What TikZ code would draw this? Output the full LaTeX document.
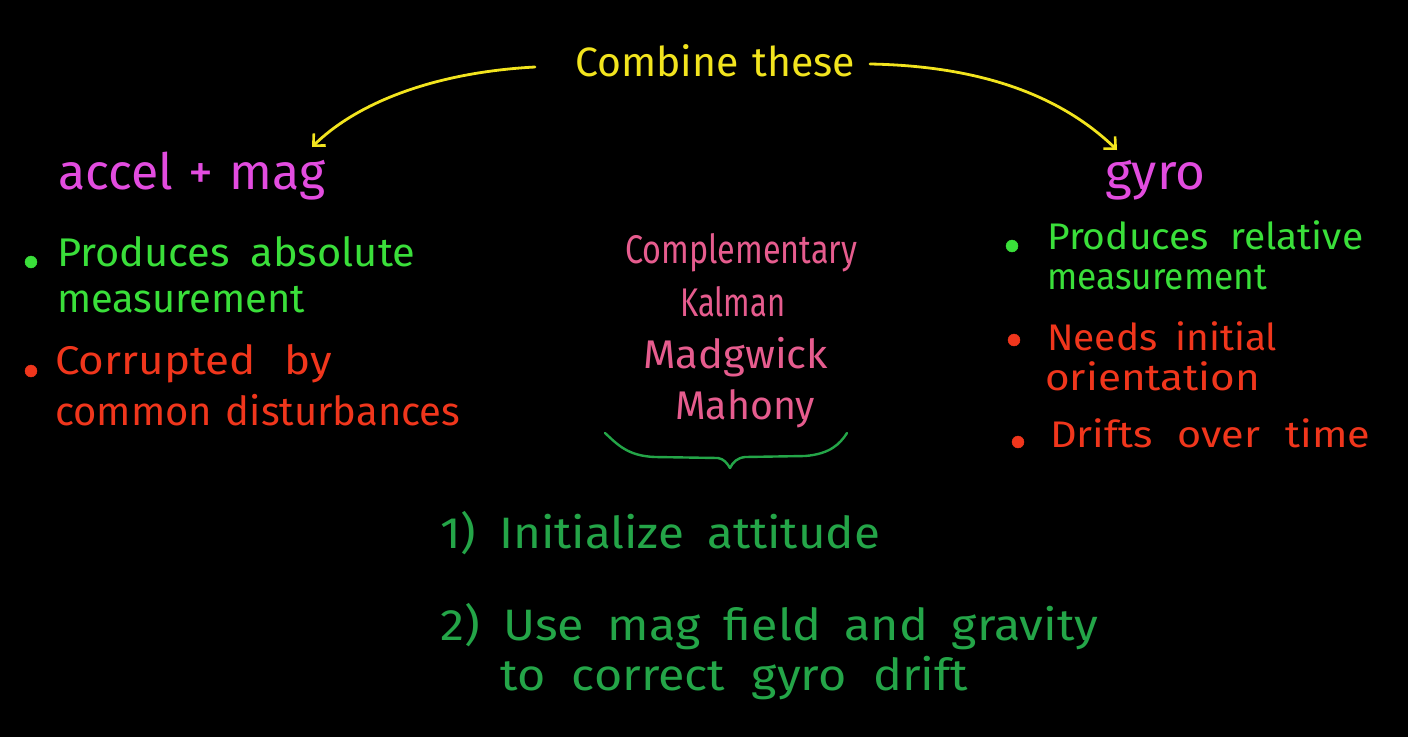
\documentclass[tikz,border=0pt]{standalone}
\usepackage{fontspec}
\setmainfont{Fira Sans}
\usetikzlibrary{arrows.meta}
\definecolor{cyel}{HTML}{F2E41E}
\definecolor{cmag}{HTML}{E24CDF}
\definecolor{cgrn}{HTML}{3ADF3A}
\definecolor{cred}{HTML}{F0361C}
\definecolor{cpink}{HTML}{E65C8E}
\definecolor{cdgrn}{HTML}{24A548}
\newcommand\spreadto[2]{\makebox[#1][s]{#2}}
\newcommand\stretchto[2]{\resizebox{#1}{\height}{#2}}
\newcommand\mixto[3]{\resizebox{#1}{\height}{\makebox[#2][s]{#3}}}
\tikzset{
  txt/.style={anchor=base west, inner sep=0pt, font=\fontsize{#1}{#1}\selectfont},
  txt/.default=34,
  arr/.style={draw=cyel, line width=2.8pt, line cap=round, -{Straight Barb[length=9pt,width=17pt,line width=2.6pt]}},
  bullet/.style={circle, fill=#1, draw=#1, inner sep=0pt, minimum size=12pt},
  bracepath/.style={draw=cdgrn, line width=2.4pt, line cap=round, line join=round}
}
\begin{document}
\begin{tikzpicture}[x=1pt,y=-1pt]
\fill[black] (0,0) rectangle (1408,737);
\useasboundingbox (0,0) rectangle (1408,737);
% title
\node[txt=41, text=cyel] (combine) at (575,76) {\spreadto{280pt}{Combine these}};
\coordinate (la) at (535,67);
\coordinate (ra) at (870,64);
% headings
\node[txt=50, text=cmag] (accel) at (58,189) {\spreadto{267pt}{accel + mag}};
\node[txt=50, text=cmag] (gyro) at (1105,189) {\stretchto{100pt}{gyro}};
\coordinate (lt) at (312,147);
\coordinate (rt) at (1117,150);
\draw[arr] (la) .. controls (440,72) and (360,100) .. (lt);
\draw[arr] (ra) .. controls (980,66) and (1060,95) .. (rt);
% left column
\node[bullet=cgrn] (b1) at (31,262) {};
\node[txt=40, text=cgrn] (l1) at (57,266) {\mixto{358pt}{344pt}{Produces absolute}};
\node[txt=40, text=cgrn] (l2) at (57,312) {\stretchto{248pt}{measurement}};
\node[bullet=cred] (b2) at (31,371) {};
\node[txt=40, text=cred] (l3) at (55,374) {\mixto{277pt}{252pt}{Corrupted by}};
\node[txt=40, text=cred] (l4) at (55,425) {\spreadto{405pt}{common disturbances}};
% right column
\node[bullet=cgrn] (b3) at (1012,246) {};
\node[txt=37, text=cgrn] (r1) at (1047,249) {\mixto{316pt}{300pt}{Produces relative}};
\node[txt=37, text=cgrn] (r2) at (1047,289) {\stretchto{220pt}{measurement}};
\node[bullet=cred] (b4) at (1014,340) {};
\node[txt=37, text=cred] (r3) at (1047,350) {\mixto{230pt}{219pt}{Needs initial}};
\node[txt=37, text=cred] (r4) at (1045,390) {\stretchto{215pt}{orientation}};
\node[bullet=cred] (b5) at (1018,442) {};
\node[txt=37, text=cred] (r5) at (1050,447) {\mixto{320pt}{286pt}{Drifts over time}};
% center filters
\node[txt=40, text=cpink] (f1) at (625,263) {\stretchto{232pt}{Complementary}};
\node[txt=40, text=cpink] (f2) at (680,316) {\stretchto{105pt}{Kalman}};
\node[txt=40, text=cpink] (f3) at (643,368) {\stretchto{185pt}{Madgwick}};
\node[txt=40, text=cpink] (f4) at (675,419) {\stretchto{140pt}{Mahony}};
% brace
\draw[bracepath] (605,433) .. controls (618,445) and (628,456) .. (655,457)
  -- (718,458) .. controls (724,459) and (727,463) .. (730,468)
  .. controls (733,462) and (737,458) .. (745,457)
  -- (805,456) .. controls (830,454) and (840,444) .. (847,433);
% steps
\node[txt=44, text=cdgrn] (s1) at (440,548) {\mixto{440pt}{407pt}{1) Initialize attitude}};
\node[txt=44, text=cdgrn] (s2) at (440,640) {\mixto{658pt}{598pt}{2) Use mag field and gravity}};
\node[txt=44, text=cdgrn] (s3) at (500,690) {\mixto{468pt}{425pt}{to correct gyro drift}};
\end{tikzpicture}
\end{document}
